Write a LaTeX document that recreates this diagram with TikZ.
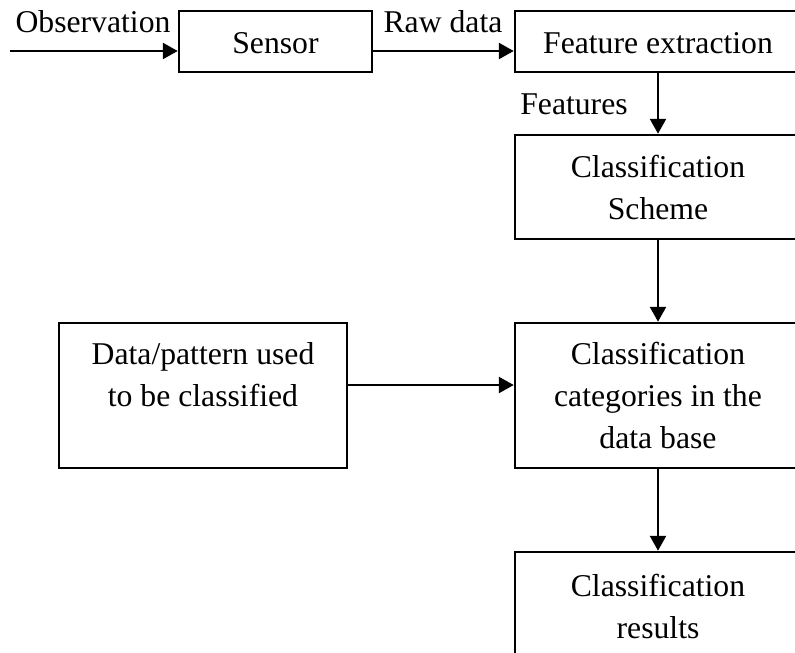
\documentclass[tikz,border=0pt]{standalone}
\usepackage{fontspec}
\setmainfont{Liberation Serif}
\usetikzlibrary{arrows.meta}
\begin{document}
\begin{tikzpicture}[x=1pt,y=-1pt,
  font=\fontsize{31.7}{42}\selectfont,
  box/.style={draw, line width=2.5pt, inner sep=0pt, align=center},
  flow/.style={line width=2.5pt, -{Triangle[length=15pt,width=16pt]}}]
\useasboundingbox (0,0) rectangle (795,653);
\clip (0,0) rectangle (795,653);

% processing chain
\node[box, minimum width=193pt, minimum height=61pt, text height=25pt] (sensor) at (275.5,41.5) {Sensor};
\node[box, minimum width=286pt, minimum height=61pt, text height=25pt] (fe) at (658,41.5) {Feature extraction};
\node[box, minimum width=286pt, minimum height=104pt] (scheme) at (658,187) {Classification\\Scheme};
\node[box, minimum width=286pt, minimum height=145pt] (cat) at (658,395.5) {Classification\\categories in the\\data base};
\node[box, minimum width=288pt, minimum height=145pt] (data) at (203,395.5) {Data/pattern used\\to be classified\\\mbox{}};
\node[box, minimum width=286pt, minimum height=109pt] (res) at (658,606.5) {Classification\\results};

% signal labels
\node (obs) at (93,22) {Observation};
\node (raw) at (443,22) {Raw data};
\node (feat) at (574,104) {Features};

% connectors
\coordinate (src) at (10,51);
\coordinate (mid) at (0,385);
\draw[flow] (src) -- (src -| sensor.west);
\draw[flow] (sensor.east |- src) -- (fe.west |- src);
\draw[flow] (fe.south) -- (scheme.north);
\draw[flow] (scheme.south) -- (cat.north);
\draw[flow] (data.east |- mid) -- (cat.west |- mid);
\draw[flow] (cat.south) -- (res.north);
\end{tikzpicture}
\end{document}
